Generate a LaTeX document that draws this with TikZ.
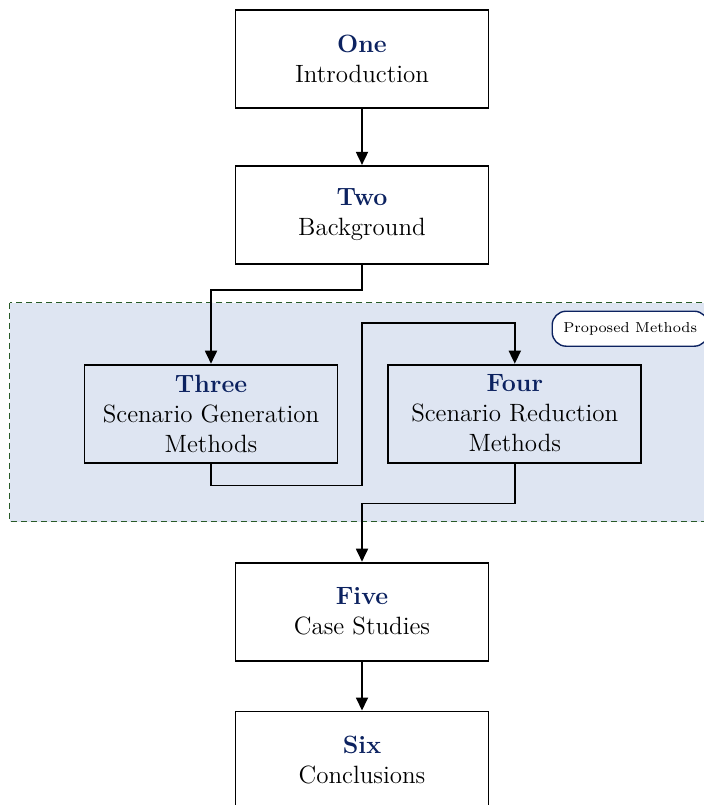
\documentclass[tikz,border=0pt]{standalone}
\usepackage{tikz}
\usetikzlibrary{arrows.meta, positioning, calc, backgrounds}
\definecolor{chapnavy}{RGB}{12,34,96}
\definecolor{partblue}{RGB}{222,229,242}
\definecolor{partgreen}{RGB}{40,90,40}

\begin{document}
\begin{tikzpicture}[
    chapter/.style={rectangle, draw=black, line width=0.9pt, minimum width=126.5pt, minimum height=49pt, align=center, font=\fontsize{12.5}{15}\selectfont},
    region/.style={draw=partgreen, densely dashed, line width=0.6pt, fill=partblue},
    tag/.style={rectangle, draw=chapnavy, fill=white, line width=0.7pt, rounded corners=7pt, minimum width=78pt, minimum height=17.5pt, inner sep=2pt, font=\fontsize{7.2}{8}\selectfont},
    arr/.style={-{Triangle[length=6.5pt, width=6pt]}, line width=0.9pt},
]
\useasboundingbox (0,0) rectangle (352pt,-402.5pt);

% Chapters
\node[chapter] (one) at (181pt,-29.5pt) {\textcolor{chapnavy}{\textbf{One}}\\Introduction};
\node[chapter, below=28pt of one] (two) {\textcolor{chapnavy}{\textbf{Two}}\\Background};
\node[chapter, below=49.5pt of two, xshift=-75.5pt] (three) {\textcolor{chapnavy}{\textbf{Three}}\\Scenario Generation\\Methods};
\node[chapter, right=24.5pt of three] (four) {\textcolor{chapnavy}{\textbf{Four}}\\Scenario Reduction\\Methods};
\node[chapter, below=148.5pt of two] (five) {\textcolor{chapnavy}{\textbf{Five}}\\Case Studies};
\node[chapter, below=24.5pt of five] (six) {\textcolor{chapnavy}{\textbf{Six}}\\Conclusions};

% Proposed part
\scoped[on background layer] {
    \draw[region] ([xshift=-37pt, yshift=30.5pt]three.north west) rectangle ([xshift=40pt, yshift=-29pt]four.south east);
}
\node[tag] (proposed) at ([xshift=-6pt, yshift=17.5pt]four.north east) {Proposed Methods};

% Arrows
\draw[arr] (one) -- (two);
\draw[arr] (two.south) -- ++(0,-12.5pt) -| (three.north);
\draw[arr] (three.south) -- ++(0,-11pt) -| ($(four.north -| two.south)+(0,20.5pt)$) -| (four.north);
\draw[arr] (four.south) -- ++(0,-20pt) -| (five.north);
\draw[arr] (five) -- (six);
\end{tikzpicture}
\end{document}
